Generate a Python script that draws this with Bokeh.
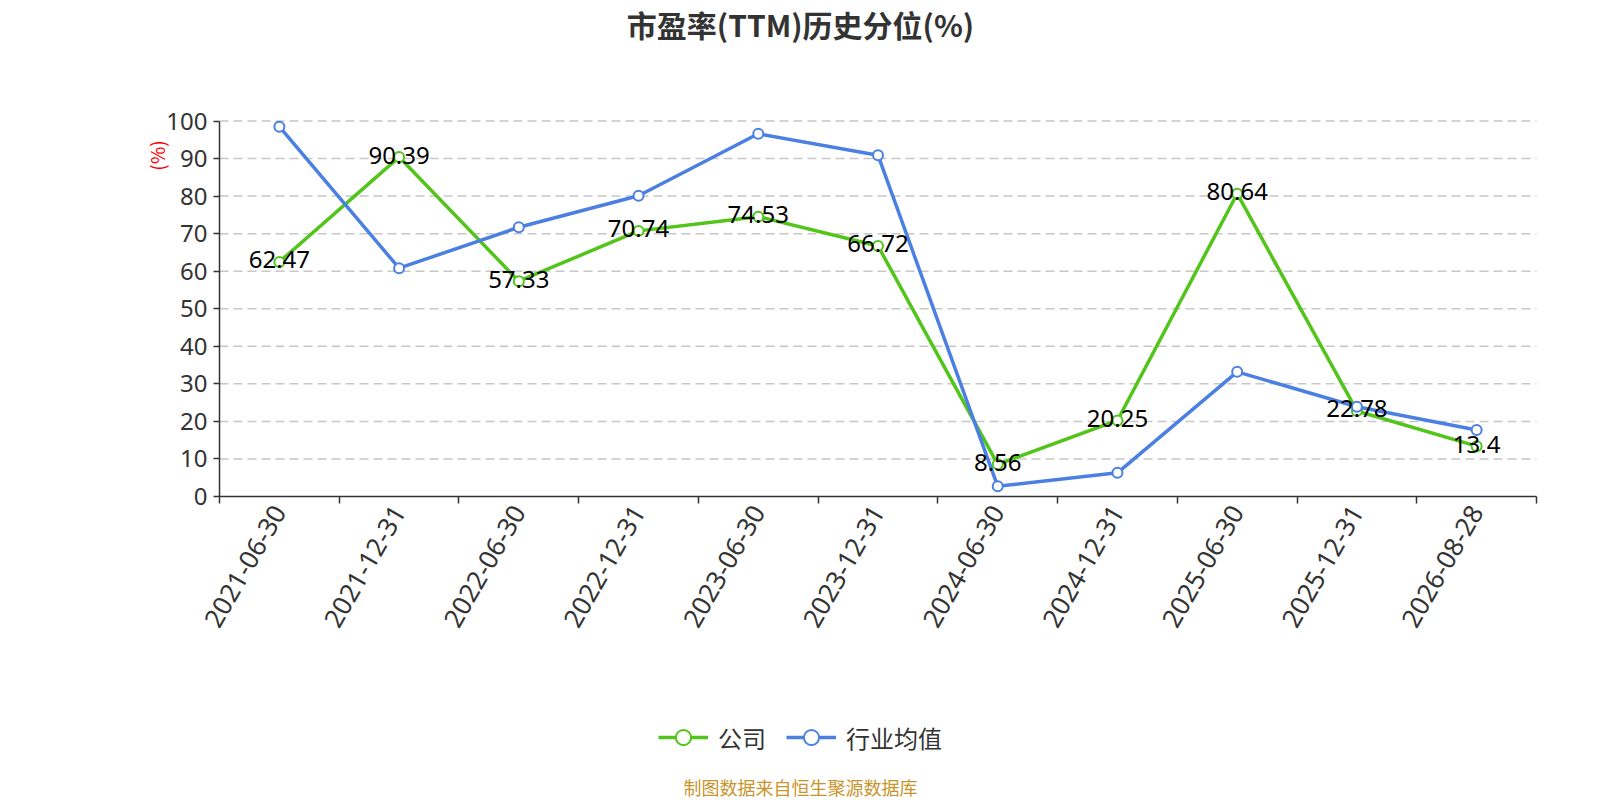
import math
from bokeh.plotting import figure
from bokeh.models import Range1d, FixedTicker, Label, Legend, LegendItem, ColumnDataSource
from bokeh.core.properties import value
from bokeh.embed import file_html
from bokeh.resources import INLINE

# ---- data ----
dates = ["2021-06-30", "2021-12-31", "2022-06-30", "2022-12-31", "2023-06-30",
         "2023-12-31", "2024-06-30", "2024-12-31", "2025-06-30", "2025-12-31", "2026-08-28"]
company = [62.47, 90.39, 57.33, 70.74, 74.53, 66.72, 8.56, 20.25, 80.64, 22.78, 13.4]
industry = [98.5, 60.8, 71.7, 80.1, 96.6, 90.9, 2.7, 6.3, 33.2, 23.9, 17.7]
y_ticks = [0, 10, 20, 30, 40, 50, 60, 70, 80, 90, 100]
title_text = "市盈率(TTM)历史分位(%)"
series_names = ["公司", "行业均值"]
footer_text = "制图数据来自恒生聚源数据库"

GREEN = "#52c41a"
BLUE = "#4b80e2"
CJK = "Noto Sans CJK SC"
NUM = "Noto Sans"

W, H = 1600, 800
# pixel layout of the plotting area on the canvas
LEFT, RIGHT, TOP, BOTTOM = 219.0, 1536.0, 120.5, 496.0
n = len(dates)
ymin, ymax = y_ticks[0], y_ticks[-1]
kx = (RIGHT - LEFT) / n
ky = (BOTTOM - TOP) / (ymax - ymin)
x_range = Range1d(-LEFT / kx, n + (W - RIGHT) / kx)
y_range = Range1d(ymin - (H - BOTTOM) / ky, ymax + TOP / ky)

xs = [i + 0.5 for i in range(n)]
src = ColumnDataSource(dict(x=xs, company=company, industry=industry,
                            label=[("%g" % v) for v in company]))

p = figure(width=W, height=H, output_backend="svg", toolbar_location=None,
           x_range=x_range, y_range=y_range, min_border=0)
p.outline_line_color = None
p.background_fill_color = "white"
p.border_fill_color = "white"
p.xgrid.visible = False
p.ygrid.visible = False

# axes (placed at the data origin, spanning only the data extent)
p.yaxis.fixed_location = 0
p.yaxis.bounds = (ymin, ymax)
p.yaxis.ticker = FixedTicker(ticks=y_ticks)
p.yaxis.axis_line_color = "#333333"
p.yaxis.axis_line_width = 1.5
p.yaxis.major_tick_line_color = "#333333"
p.yaxis.major_tick_line_width = 1.5
p.yaxis.major_tick_out = 6
p.yaxis.major_tick_in = 0
p.yaxis.minor_tick_line_color = None
p.yaxis.major_label_text_font = NUM
p.yaxis.major_label_text_font_size = "24px"
p.yaxis.major_label_text_color = "#333333"
p.yaxis.major_label_standoff = 6

p.xaxis.fixed_location = ymin
p.xaxis.bounds = (0, n)
p.xaxis.ticker = FixedTicker(ticks=xs, minor_ticks=list(range(n + 1)))
p.xaxis.major_label_overrides = {x: d for x, d in zip(xs, dates)}
p.xaxis.axis_line_color = "#333333"
p.xaxis.axis_line_width = 1.5
p.xaxis.major_tick_line_color = None
p.xaxis.major_tick_out = 7
p.xaxis.major_tick_in = 0
p.xaxis.minor_tick_line_color = "#333333"
p.xaxis.minor_tick_line_width = 1.5
p.xaxis.minor_tick_out = 7
p.xaxis.minor_tick_in = 0
p.xaxis.major_label_orientation = math.pi / 3
p.xaxis.major_label_text_font = NUM
p.xaxis.major_label_text_font_size = "26px"
p.xaxis.major_label_text_color = "#333333"
p.xaxis.major_label_standoff = 4

# horizontal dashed grid lines at the y ticks
p.segment(x0=0, x1=n, y0=y_ticks[1:], y1=y_ticks[1:], line_color="#c8c8c8",
          line_dash="9 5", line_width=1.5)

# series
gl = p.line("x", "company", source=src, line_color=GREEN, line_width=3.5)
gm = p.scatter("x", "company", source=src, marker="circle", size=10,
               fill_color="white", line_color=GREEN, line_width=2)
bl = p.line("x", "industry", source=src, line_color=BLUE, line_width=3.5)
bm = p.scatter("x", "industry", source=src, marker="circle", size=10,
               fill_color="white", line_color=BLUE, line_width=2)
p.text("x", "company", text="label", source=src, text_align="center",
       text_baseline="middle", y_offset=-2, text_font=value(NUM),
       text_font_size="24px", text_color="black")

# legend
legend = Legend(items=[LegendItem(label=series_names[0], renderers=[gl, gm]),
                       LegendItem(label=series_names[1], renderers=[bl, bm])],
                orientation="horizontal", location=(658, H - 756),
                glyph_width=50, glyph_height=38, label_standoff=10, spacing=20,
                padding=0, margin=0, border_line_color=None,
                background_fill_alpha=0, label_text_font=CJK,
                label_text_font_size="24px", label_text_color="#333333")
p.add_layout(legend, "center")

# texts
p.add_layout(Label(x=800, y=H - 23, x_units="screen", y_units="screen", text=title_text,
                   text_align="center", text_baseline="middle", text_font=CJK,
                   text_font_size="30px", text_font_style="bold", text_color="#333333"))
p.add_layout(Label(x=156, y=H - 155, x_units="screen", y_units="screen", text="(%)",
                   angle=math.pi / 2, text_align="center", text_baseline="middle",
                   text_font=CJK, text_font_size="19px", text_color="red"))
p.add_layout(Label(x=800, y=H - 786, x_units="screen", y_units="screen", text=footer_text,
                   text_align="center", text_baseline="middle", text_font=CJK,
                   text_font_size="18px", text_color="#c9942b"))

open("out.html", "w").write(file_html(p, INLINE))
